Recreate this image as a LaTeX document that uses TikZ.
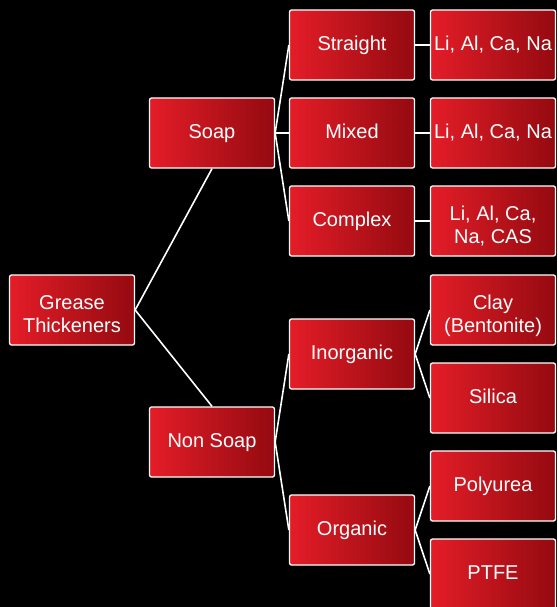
\documentclass[tikz,border=0pt]{standalone}
\usepackage{fontspec}
\setmainfont{Liberation Sans}
\usetikzlibrary{calc}
\definecolor{boxleft}{HTML}{E41D28}
\definecolor{boxright}{HTML}{940A10}
\tikzset{
	box/.style = {draw=white, line width=1.3pt, rounded corners=2pt, left color=boxleft, right color=boxright, text=white, minimum width=125pt, minimum height=70pt, align=center, inner sep=1pt, font=\fontsize{20}{22.7}\selectfont, text height=17pt, text depth=5.6pt},
	twoline/.style = {text height=48pt, text depth=4pt},
	link/.style = {white, line width=1.6pt},
}

\begin{document}
\begin{tikzpicture}[x=1pt, y=-1pt]
	\fill[black] (0,0) rectangle (557,607);
	\useasboundingbox (0,0) rectangle (557,607);
	\clip (0,0) rectangle (557,607);
	\node[box, twoline] (root) at (72,310) {Grease\\Thickeners};
	\node[box] (soap)  at (212,133) {Soap};
	\node[box] (nsoap) at (212,442) {Non Soap};
	\node[box] (str)   at (352,45)  {Straight};
	\node[box] (mix)   at (352,133) {Mixed};
	\node[box] (cpx)   at (352,221) {Complex};
	\node[box] (inorg) at (352,354) {Inorganic};
	\node[box] (org)   at (352,530) {Organic};
	\node[box] (strm)  at (493,45)  {Li, Al, Ca, Na};
	\node[box] (mixm)  at (493,133) {Li, Al, Ca, Na};
	\node[box, twoline] (cpxm) at (493,221) {Li, Al, Ca,\\Na, CAS};
	\node[box, twoline] (clay) at (493,310) {Clay\\(Bentonite)};
	\node[box] (sil)   at (493,398) {Silica};
	\node[box] (poly)  at (493,486) {Polyurea};
	\node[box] (ptfe)  at (493,574) {PTFE};
	% connectors
	\draw[link] (root.east) -- (soap.south);
	\draw[link] (root.east) -- (nsoap.north);
	\draw[link] (soap.east) -- (str.west);
	\draw[link] (soap.east) -- (mix.west);
	\draw[link] (soap.east) -- (cpx.west);
	\draw[link] (nsoap.east) -- (inorg.west);
	\draw[link] (nsoap.east) -- (org.west);
	\draw[link] (str.east) -- (strm.west);
	\draw[link] (mix.east) -- (mixm.west);
	\draw[link] (cpx.east) -- (cpxm.west);
	\draw[link] (inorg.east) -- (clay.west);
	\draw[link] (inorg.east) -- (sil.west);
	\draw[link] (org.east) -- (poly.west);
	\draw[link] (org.east) -- (ptfe.west);
\end{tikzpicture}
\end{document}
